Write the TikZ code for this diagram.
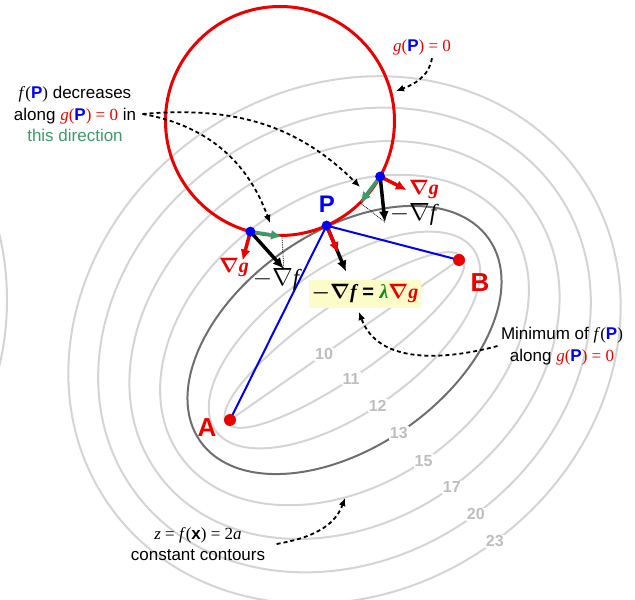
\documentclass[tikz,border=0pt]{standalone}
\usepackage{amsmath}
\usepackage{bm}
\usepackage{fontspec}
\setmainfont{Liberation Sans}
\newfontfamily\tnr{Liberation Serif}
\usetikzlibrary{arrows.meta,calc}
\definecolor{pred}{RGB}{235,0,0}
\definecolor{pblue}{RGB}{0,0,245}
\definecolor{pgreen}{RGB}{60,155,105}
\definecolor{lgreen}{RGB}{20,140,20}
\definecolor{cgray}{RGB}{212,212,212}
\definecolor{dgray}{RGB}{110,110,110}
\definecolor{lblgray}{RGB}{190,190,190}
\definecolor{eqbg}{RGB}{252,252,200}
\newcommand{\Pb}{{\bfseries\color{pblue}P}}
\newcommand{\fofP}{{\tnr\itshape f\/\upshape(}\Pb{\tnr)}}
\newcommand{\gofP}{{\color{pred}\tnr\itshape g\/\upshape(}\Pb{\color{pred}\tnr) = 0}}
\tikzset{
  contour/.style={cgray,line width=2pt},
  clabel/.style={fill=white,inner sep=1pt,text=lblgray,font=\fontsize{16}{16}\selectfont\bfseries},
  bdot/.style={circle,fill=pblue,inner sep=0pt,minimum size=10pt},
  rdot/.style={circle,fill=pred,inner sep=0pt,minimum size=12pt},
  vec/.style={line width=3.5pt,-{Latex[length=11pt,width=10pt]}},
  proj/.style={densely dotted,line width=0.8pt},
  callout/.style={line width=1.8pt,dash pattern=on 4pt off 3pt,-{Latex[length=8pt,width=7pt]}},
  note/.style={font=\fontsize{17}{21.5}\selectfont,align=center},
  vlabel/.style={font=\fontsize{20}{20}\selectfont},
  flabel/.style={font=\fontsize{23}{23}\selectfont},
}
\begin{document}
\begin{tikzpicture}[x=1pt,y=1pt]
\useasboundingbox (0,0) rectangle (635,600);
\clip (0,0) rectangle (635,600);
\coordinate (A) at (230,180);
\coordinate (B) at (459,340);
\coordinate (C) at ($(A)!0.5!(B)$);
\coordinate (O) at (280,479);
\draw[contour] (-280,300) circle (287);
\draw[contour] (A) -- (B);
\begin{scope}[shift={(C)},rotate=35]
\foreach \ra/\rb in {144.25/35.9,157.6/73.0,201/144.5,229.5/182.1,259/218.1,287.5/251.3}
  \draw[contour] (0,0) ellipse [x radius=\ra,y radius=\rb];
\draw[dgray,line width=2pt] (0,0) ellipse [x radius=176.25,y radius=107.5];
\node[clabel] (c10) at (-25,0) {10};
\foreach \lab/\ra/\rb/\t in {11/144.25/35.9/263.3,12/157.6/73.0/266.2,13/176.25/107.5/267.1,15/201/144.5/268.7,17/229.5/182.1/270.9,20/259/218.1/271.7,23/287.5/251.3/271.5}
  \node[clabel] (c\lab) at ({\ra*cos(\t)},{\rb*sin(\t)}) {\lab};
\end{scope}
\draw[pred,line width=3pt] (O) circle (114.5);
\coordinate (P) at ($(O)+(-66:114.5)$);
\coordinate (L) at ($(O)+(-105:114.5)$);
\coordinate (R) at ($(O)+(-29:114.5)$);
\draw[pblue,line width=2pt] (A) -- (P) -- (B);
\coordinate (fL) at ($(L)+(-48:50)$);
\coordinate (tL) at ($(L)+(-9:32)$);
\coordinate (gL) at ($(L)+(-105:30)$);
\coordinate (fP) at ($(P)+(-67:50)$);
\coordinate (gP) at ($(P)+(-67:30)$);
\coordinate (fR) at ($(R)+(-84:46)$);
\coordinate (tR) at ($(R)+(-127:33)$);
\coordinate (gR) at ($(R)+(-27:30)$);
\draw[proj] (tL) -- (fL);
\draw[proj] (tR) -- (fR);
\draw[vec] (L) -- (fL);
\draw[vec] (P) -- (fP);
\draw[vec] (R) -- (fR);
\draw[vec,pred] (L) -- (gL);
\draw[vec,pred] (P) -- (gP);
\draw[vec,pred] (R) -- (gR);
\draw[vec,pgreen] (L) -- (tL);
\draw[vec,pgreen] (R) -- (tR);
\node[bdot] (Ldot) at (L) {};
\node[bdot] (Pdot) at (P) {};
\node[bdot] (Rdot) at (R) {};
\node[rdot] (Adot) at (A) {};
\node[rdot] (Bdot) at (B) {};
\node[text=pblue,font=\fontsize{24}{24}\selectfont\bfseries] (Plab) at (327,396) {P};
\node[text=pred,font=\fontsize{26}{26}\selectfont\bfseries] (Alab) at (207,172) {A};
\node[text=pred,font=\fontsize{26}{26}\selectfont\bfseries] (Blab) at (480,317) {B};
\node[vlabel,text=pred] (gLlab) at (234,332) {$\boldsymbol{\nabla}${\tnr\bfseries\itshape g}};
\node[vlabel,text=pred] (gRlab) at (424,410) {$\boldsymbol{\nabla}${\tnr\bfseries\itshape g}};
\node[flabel] (fLlab) at (276,321) {$-\nabla${\tnr\itshape f}};
\node[flabel] (fRlab) at (413,386) {$-\nabla${\tnr\itshape f}};
\node[vlabel,fill=eqbg,inner xsep=3pt,minimum height=28pt] (eq) at (365,306)
  {$\boldsymbol{-\nabla}${\tnr\bfseries\itshape f}\ {\bfseries =}\ {\color{lgreen}\tnr\bfseries\itshape λ}{\color{pred}$\boldsymbol{\nabla}${\tnr\bfseries\itshape g}}};
\node[note] (gnote) at (422,553) {\gofP};
\node[note] (fnote) at (75,486) {\fofP{} decreases\\along \gofP{} in\\{\color{pgreen}this direction}};
\node[note] (mnote) at (562,254) {Minimum of \fofP\\along \gofP};
\node[note] (znote) at (198,56) {{\tnr\itshape z\/ \upshape= \itshape f\/\upshape(}{\bfseries x}{\tnr) = 2\itshape a}\\constant contours};
\coordinate (gtip) at (396,509);
\coordinate (ftipL) at (270,377);
\coordinate (ftipR) at (360,413);
\coordinate (mtip) at (359,288);
\coordinate (ztip) at (345,102);
\draw[callout] ([xshift=10pt]gnote.south) to[out=-100,in=20] (gtip);
\draw[callout] ([xshift=3pt]fnote.east) to[out=-10,in=110] (ftipL);
\draw[callout] ([xshift=3pt]fnote.east) to[out=5,in=135] (ftipR);
\draw[callout] (mnote.west) to[out=195,in=-70] (mtip);
\draw[callout] ([xshift=8pt]znote.east) to[out=10,in=-110] (ztip);
\end{tikzpicture}
\end{document}
